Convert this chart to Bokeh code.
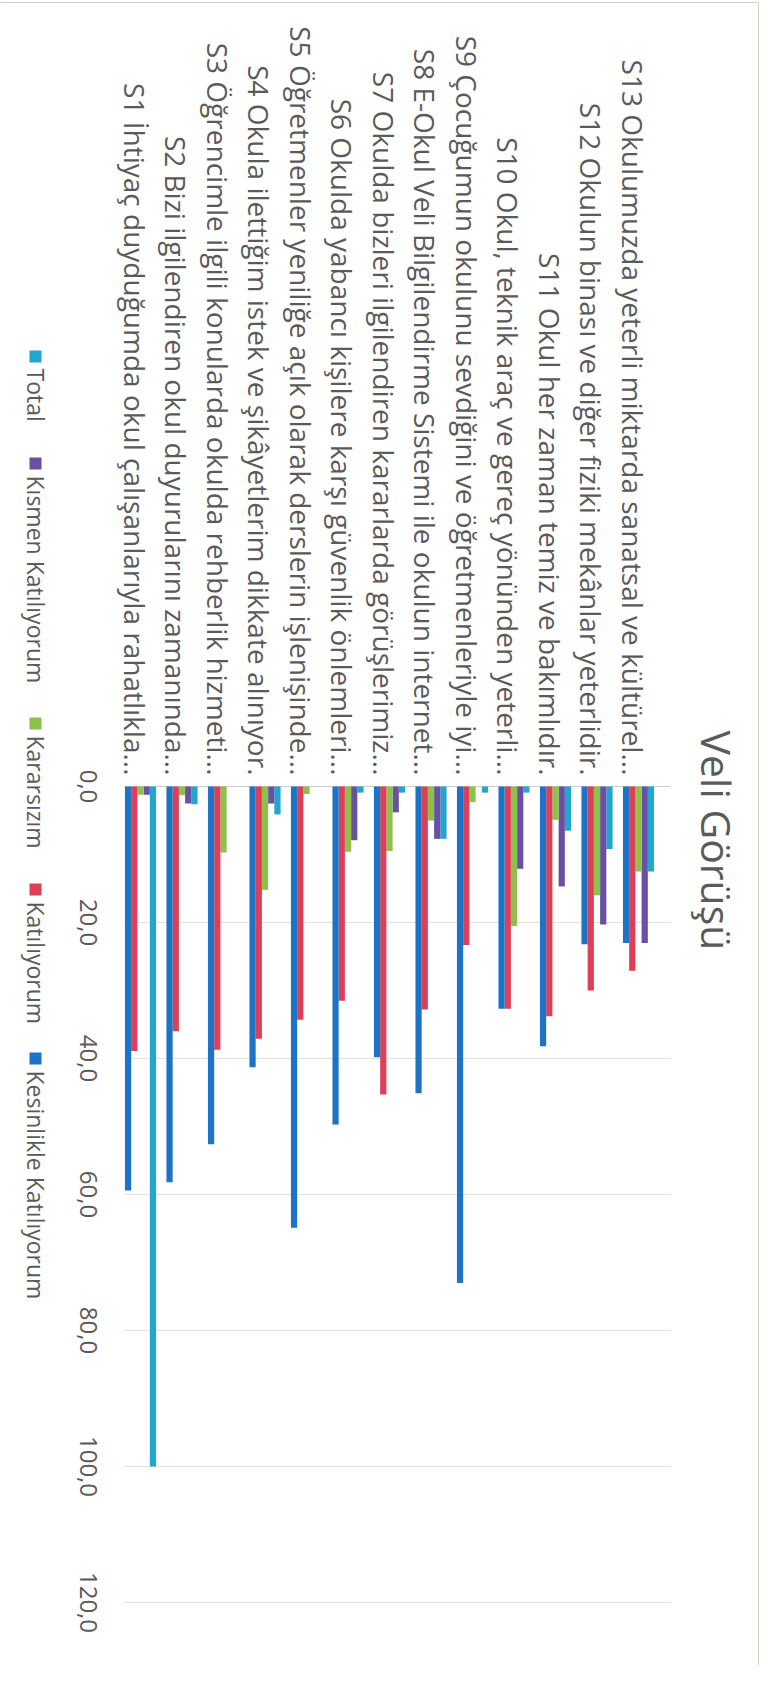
import math
from bokeh.plotting import figure
from bokeh.models import Range1d
from bokeh.embed import file_html
from bokeh.resources import INLINE
from bokeh.core.properties import value

# ---------------- data ----------------
categories = [
    "S1 İhtiyaç duyduğumda okul çalışanlarıyla rahatlıkla...",
    "S2 Bizi ilgilendiren okul duyurularını zamanında...",
    "S3 Öğrencimle ilgili konularda okulda rehberlik hizmeti...",
    "S4 Okula ilettiğim istek ve şikâyetlerim dikkate alınıyor.",
    "S5 Öğretmenler yeniliğe açık olarak derslerin işlenişinde...",
    "S6 Okulda yabancı kişilere karşı güvenlik önlemleri...",
    "S7 Okulda bizleri ilgilendiren kararlarda görüşlerimiz...",
    "S8 E-Okul Veli Bilgilendirme Sistemi ile okulun internet...",
    "S9 Çocuğumun okulunu sevdiğini ve öğretmenleriyle iyi...",
    "S10 Okul, teknik araç ve gereç yönünden yeterli...",
    "S11 Okul her zaman temiz ve bakımlıdır.",
    "S12 Okulun binası ve diğer fiziki mekânlar yeterlidir.",
    "S13 Okulumuzda yeterli miktarda sanatsal ve kültürel...",
]

series_names = ["Total", "Kısmen Katılıyorum", "Kararsızım", "Katılıyorum", "Kesinlikle Katılıyorum"]
series_colors = ["#21a6cf", "#6a50a4", "#8cc24c", "#de3f57", "#1d74c6"]

total       = [100.0, 2.6, 0.0, 4.1, 0.0, 0.9, 0.9, 7.7, 0.9, 0.9, 6.5, 9.2, 12.5]
kismen      = [1.2, 2.5, 0.0, 2.5, 0.0, 7.9, 3.8, 7.7, 0.0, 12.1, 14.7, 20.3, 23.0]
kararsizim  = [1.2, 1.3, 9.7, 15.2, 1.1, 9.6, 9.5, 5.0, 2.3, 20.5, 4.9, 16.0, 12.5]
katiliyorum = [38.9, 36.0, 38.7, 37.1, 34.3, 31.5, 45.3, 32.8, 23.3, 32.7, 33.8, 30.0, 27.1]
kesinlikle  = [59.4, 58.2, 52.6, 41.3, 64.9, 49.7, 39.8, 45.1, 73.0, 32.7, 38.2, 23.2, 23.0]

value_ticks = [0, 20, 40, 60, 80, 100, 120]
value_tick_labels = ["0,0", "20,0", "40,0", "60,0", "80,0", "100,0", "120,0"]

title_text = "Veli Görüşü"

# ---------------- layout helpers (page pixels -> data) ----------------
W, H = 764, 1665
CAT0, CATSTEP = 148.0, 41.5      # page x of first category centre, spacing
ZERO, PXU = 794.0, 6.8           # page y of value 0, pixels per unit


def px2x(px):
    return 1 + (px - CAT0) / CATSTEP


def py2v(py):
    return (py - ZERO) / PXU


p = figure(width=W, height=H, output_backend="svg", toolbar_location=None,
           x_axis_type=None, y_axis_type=None,
           x_range=Range1d(px2x(8), px2x(8 + W)),
           y_range=Range1d(py2v(8 + H), py2v(8)),
           min_border=0, min_border_left=0, min_border_right=0,
           min_border_top=0, min_border_bottom=0)
p.outline_line_color = None
p.background_fill_color = "white"
p.border_fill_color = "white"
p.grid.visible = False

FONT = value("Open Sans")
TXT = "#5a5a5a"

# chart border
p.quad(left=[px2x(4)], right=[px2x(766)], top=[py2v(10)], bottom=[py2v(1675)],
       fill_color=None, line_color="#d6d1c6", line_width=1)

# gridlines
gx0, gx1 = px2x(132), px2x(678)
grid_ticks = [t for t in value_ticks if t > 0]
p.segment(x0=[gx0] * len(grid_ticks), x1=[gx1] * len(grid_ticks),
          y0=grid_ticks, y1=grid_ticks, line_color="#e6e1d3", line_width=1)
# category axis line at zero
p.segment(x0=[gx0], x1=[gx1], y0=[0], y1=[0], line_color="#d0ccc4", line_width=1)

# bars (left -> right in a group: Kesinlikle, Katılıyorum, Kararsızım, Kısmen, Total)
series_values = [total, kismen, kararsizim, katiliyorum, kesinlikle]
offsets = [2, 1, 0, -1, -2]
bw = 0.15
xs = list(range(1, len(categories) + 1))
for vals, col, off in zip(series_values, series_colors, offsets):
    p.vbar(x=[x + off * bw for x in xs], width=bw, top=[0] * len(vals), bottom=vals,
           fill_color=col, line_color=None)

# category labels
lab_shift = -6 / CATSTEP
p.text(x=[x + lab_shift for x in xs], y=[py2v(783)] * len(xs), text=categories,
       angle=-math.pi / 2, text_align="right", text_baseline="middle",
       text_font=FONT, text_font_size="28px", text_color=TXT)

# value tick labels
p.text(x=[px2x(96)] * len(value_ticks), y=value_ticks, text=value_tick_labels,
       angle=-math.pi / 2, text_align="center", text_baseline="middle",
       text_font=FONT, text_font_size="24px", text_color=TXT)

# title
p.text(x=[px2x(724)], y=[py2v(848)], text=[title_text], angle=-math.pi / 2,
       text_align="center", text_baseline="middle", text_font=FONT,
       text_font_size="41px", text_color=TXT)

# legend
leg_x = px2x(43)
leg_start = [358, 465, 725, 891, 1060]
p.rect(x=[leg_x] * 5, y=[py2v(s + 6) for s in leg_start], width=12, height=12,
       width_units="screen", height_units="screen",
       fill_color=series_colors, line_color=None)
p.text(x=[leg_x] * 5, y=[py2v(s + 18) for s in leg_start], text=series_names,
       angle=-math.pi / 2, text_align="left", text_baseline="middle",
       text_font=FONT, text_font_size="23px", text_color=TXT)

open("out.html", "w").write(file_html(p, INLINE))
